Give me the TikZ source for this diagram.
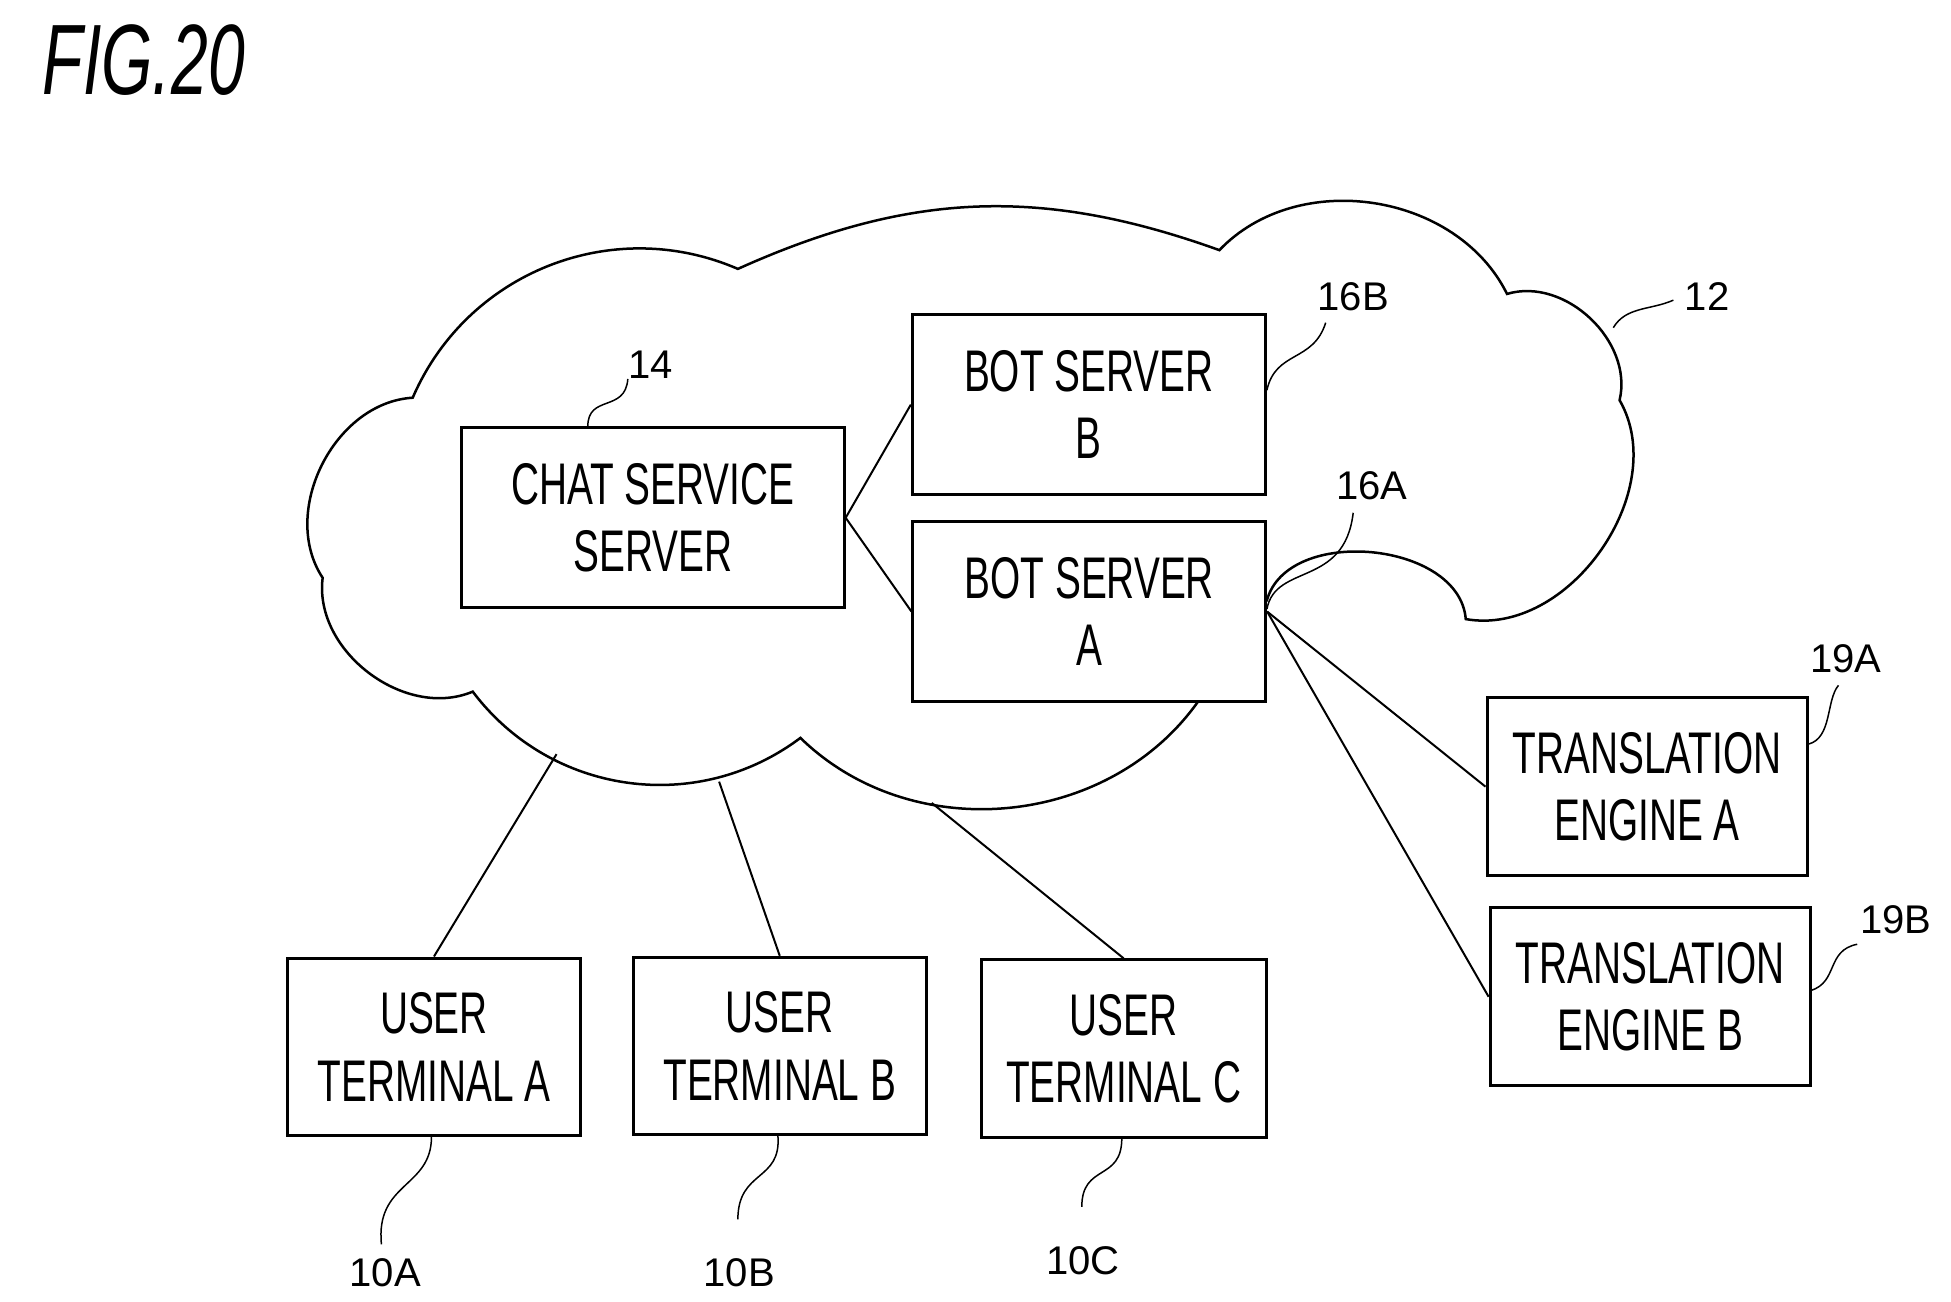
\documentclass[tikz,border=0pt]{standalone}
\usepackage{fontspec}
\setmainfont{Liberation Sans}
\newfontfamily\cond[FakeStretch=0.66]{Liberation Sans}
\begin{document}
\begin{tikzpicture}[x=0.5pt,y=-0.5pt,line width=0.8pt,
  box/.style={draw,fill=white,line width=1.2pt,inner sep=0pt,align=center,font=\cond\fontsize{23.5}{27}\selectfont},
  lbl/.style={font=\fontsize{16}{18}\selectfont},
  lead/.style={line width=0.6pt}]
\useasboundingbox (0,0) rectangle (1560,1041);
\node[font=\cond\itshape\fontsize{40}{44}\selectfont] (fig) at (115,48) {FIG.20};
% cloud
\draw[fill=white,line width=1pt] (258,462) to[bend left=60] (330,318) to[bend left=45] (590,215)
  to[bend left=22] (975,200) to[bend left=55] (1205,235) to[bend left=60] (1295,320)
  to[bend left=65] (1172,495) to[bend right=80] (1013,480) -- (990,480) -- (990,550)
  -- (960,558) to[bend left=50] (640,590) to[bend left=45] (378,553) to[bend left=60] cycle;
\coordinate (c1) at (445,603); \coordinate (c2) at (575,625); \coordinate (c3) at (745,642);
\node[box,minimum width=153pt,minimum height=72pt] (chat) at (522,414) {CHAT SERVICE\\SERVER};
\node[box,minimum width=141pt,minimum height=72pt] (botb) at (870.5,323.5) {BOT SERVER\\B};
\node[box,minimum width=141pt,minimum height=72pt] (bota) at (871,489) {BOT SERVER\\A};
\node[box,minimum width=128pt,minimum height=71pt] (tra) at (1317,629) {TRANSLATION\\ENGINE A};
\node[box,minimum width=128pt,minimum height=71pt] (trb) at (1319.5,797) {TRANSLATION\\ENGINE B};
\node[box,minimum width=117pt,minimum height=71pt] (uta) at (347,837) {USER\\TERMINAL A};
\node[box,minimum width=117pt,minimum height=71pt] (utb) at (623.5,836.5) {USER\\TERMINAL B};
\node[box,minimum width=114pt,minimum height=71pt] (utc) at (898.5,838.5) {USER\\TERMINAL C};
\draw (chat.east) -- (botb.west);
\draw (chat.east) -- (bota.west);
\draw (bota.east) -- (tra.west);
\draw (bota.east) -- (trb.west);
\draw (c1) -- (uta.north);
\draw (c2) -- (utb.north);
\draw (c3) -- (utc.north);
% labels
\node[lbl] (l14) at (520,292) {14};
\node[lbl] (l16b) at (1082,237) {16B};
\node[lbl] (l12) at (1365,237) {12};
\node[lbl] (l16a) at (1097,388) {16A};
\node[lbl] (l19a) at (1476,527) {19A};
\node[lbl] (l19b) at (1516,735) {19B};
\node[lbl] (l10a) at (308,1018) {10A};
\node[lbl] (l10b) at (591,1018) {10B};
\node[lbl] (l10c) at (866,1008) {10C};
\draw[lead] (470,341) .. controls (470,315) and (500,330) .. (502,303);
\draw[lead] (1013,312) .. controls (1020,280) and (1050,290) .. (1060,258);
\draw[lead] (1290,262) .. controls (1300,245) and (1320,248) .. (1338,240);
\draw[lead] (1013,487) .. controls (1020,450) and (1075,470) .. (1082,410);
\draw[lead] (1446,595) .. controls (1465,590) and (1460,560) .. (1470,548);
\draw[lead] (1448,792) .. controls (1470,785) and (1460,760) .. (1485,755);
\draw[lead] (345,909) .. controls (345,950) and (300,945) .. (305,995);
\draw[lead] (622,908) .. controls (625,945) and (590,935) .. (590,975);
\draw[lead] (897,910) .. controls (897,945) and (865,930) .. (865,965);
\end{tikzpicture}
\end{document}
